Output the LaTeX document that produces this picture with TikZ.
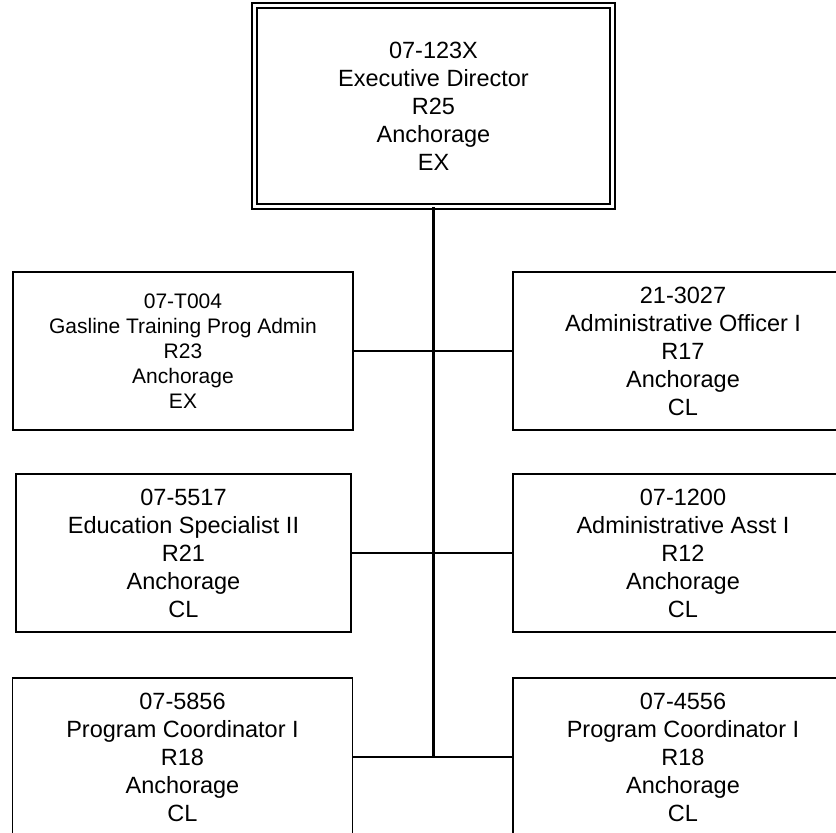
\documentclass[tikz,border=0pt]{standalone}
\usepackage{fontspec}
\setmainfont{Liberation Sans}
\begin{document}
\begin{tikzpicture}[x=1pt,y=-1pt,
  posbox/.style={draw=black, line width=1.3pt, minimum width=340pt, minimum height=158pt, inner sep=0pt, align=center, font=\fontsize{23.5}{28}\selectfont},
  smallbox/.style={posbox, font=\fontsize{21}{25}\selectfont},
  topbox/.style={posbox, double, double distance=3.7pt, minimum width=358pt, minimum height=201pt},
  link/.style={line width=1.3pt},
  trunk/.style={line width=2.2pt}]
\useasboundingbox (0,0) rectangle (836,833);
\clip (0,0) rectangle (836,833);
\node[topbox] (exec) at (433.5,106) {07-123X\\Executive Director\\R25\\Anchorage\\EX};
\node[smallbox] (gas) at (183,351) {07-T004\\Gasline Training Prog Admin\\R23\\Anchorage\\EX};
\node[posbox] (ao) at (683,351) {21-3027\\Administrative Officer I\\R17\\Anchorage\\CL};
\node[posbox, minimum width=335pt] (es) at (183.5,553) {07-5517\\Education Specialist II\\R21\\Anchorage\\CL};
\node[posbox] (aa) at (683,553) {07-1200\\Administrative Asst I\\R12\\Anchorage\\CL};
\node[posbox] (pc1) at (182.5,757) {07-5856\\Program Coordinator I\\R18\\Anchorage\\CL};
\node[posbox] (pc2) at (683,757) {07-4556\\Program Coordinator I\\R18\\Anchorage\\CL};
\coordinate (j3) at (433.5,757);
\draw[link] (gas.east) -- (ao.west);
\draw[link] (es.east) -- (aa.west);
\draw[link] (pc1.east) -- (pc2.west);
\draw[trunk] (exec.south) -- (j3);
\end{tikzpicture}
\end{document}
